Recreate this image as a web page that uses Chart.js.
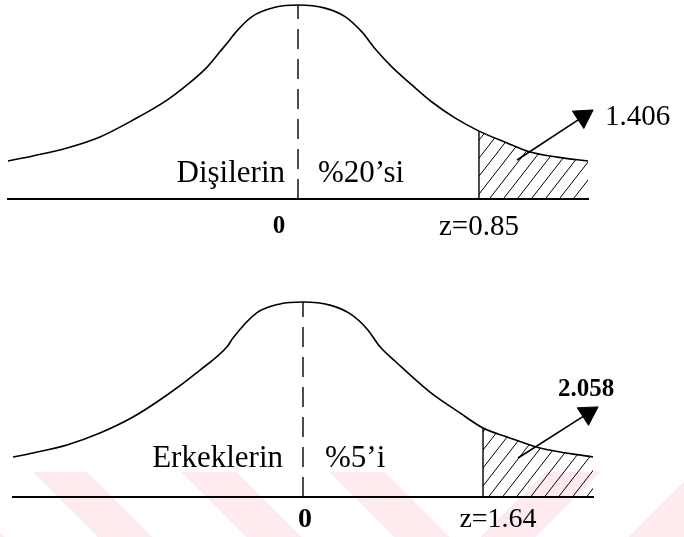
<!DOCTYPE html>
<html>
<head>
<meta charset="utf-8">
<script src="https://cdn.jsdelivr.net/npm/chart.js@4/dist/chart.umd.min.js"></script>
<style>
  body { margin: 0; background: #fff; }
  .panel { position: absolute; left: 0; width: 684px; }
  #wm { position: absolute; left: 0; top: 472px; width: 684px; height: 65px; overflow: hidden; }
  #wm .l { position: absolute; left: 0; top: 0; width: 470px; height: 65px;
    background: repeating-linear-gradient(45deg, rgba(240,110,135,0.14) 0 3px, transparent 3px 69px, rgba(240,110,135,0.14) 69px 105px); }
  #wm .r { position: absolute; left: 470px; top: 0; width: 214px; height: 65px;
    background: repeating-linear-gradient(-45deg, rgba(240,110,135,0.14) 0 39px, transparent 39px 105px); }
</style>
</head>
<body>
<div id="wm"><div class="l"></div><div class="r"></div></div>
<div class="panel" style="top:0;height:260px"><canvas id="female"></canvas></div>
<div class="panel" style="top:297px;height:240px"><canvas id="male"></canvas></div>
<script>
// bell curves, z on x, height relative to the peak on y
const femaleX = [-1.362, -1.245, -1.085, -0.930, -0.775, -0.615, -0.521, -0.427, -0.366, -0.319, -0.296, -0.216, -0.108, 0,
  0.127, 0.221, 0.301, 0.362, 0.442, 0.535, 0.629, 0.737, 0.85, 0.982, 1.090, 1.217, 1.362];
const femaleY = [0.196, 0.222, 0.263, 0.320, 0.407, 0.510, 0.588, 0.680, 0.760, 0.822, 0.855, 0.940, 0.988, 1,
  0.984, 0.940, 0.860, 0.775, 0.680, 0.588, 0.500, 0.418, 0.350, 0.289, 0.242, 0.216, 0.196];
const maleX = [-2.642, -2.460, -2.150, -1.850, -1.549, -1.239, -0.938, -0.692, -0.638, -0.419, -0.210, 0,
  0.246, 0.428, 0.583, 0.702, 0.857, 1.157, 1.430, 1.64, 1.859, 2.159, 2.642];
const maleY = [0.205, 0.226, 0.267, 0.328, 0.410, 0.523, 0.651, 0.770, 0.815, 0.945, 0.990, 1,
  0.984, 0.940, 0.862, 0.770, 0.687, 0.538, 0.431, 0.354, 0.308, 0.251, 0.205];

const femaleCut = 0.85;
const maleCut = 1.64;
const femaleTicks = [0, femaleCut];
const maleTicks = [0, maleCut];
const femaleTickLabels = ['0', 'z=0.85'];
const maleTickLabels = ['0', 'z=1.64'];
const femaleGroup = ['Dişilerin', '%20’si'];
const maleGroup = ['Erkeklerin', '%5’i'];
const femaleValue = '1.406';
const maleValue = '2.058';
// arrow from inside the tail out to the value
const femaleArrowX = [1.029, 1.339];
const femaleArrowY = [0.201, 0.425];
const maleArrowX = [1.959, 2.596];
const maleArrowY = [0.200, 0.429];

const serif = "'Liberation Serif', 'Times New Roman', serif";

function hatch() {
  const c = document.createElement('canvas');
  c.width = 14; c.height = 18;
  const g = c.getContext('2d');
  g.strokeStyle = '#000';
  g.lineWidth = 1;
  g.beginPath();
  for (const off of [-14, 0, 14]) {
    g.moveTo(off, 18);
    g.lineTo(off + 14, 0);
  }
  g.stroke();
  return g.createPattern(c, 'repeat');
}

function pts(xs, ys) {
  return xs.map((x, i) => ({ x: x, y: ys[i] }));
}

const panelText = {
  id: 'panelText',
  afterDatasetsDraw(chart, args, opts) {
    const ctx = chart.ctx;
    const sx = chart.scales.x, sy = chart.scales.y;
    ctx.save();
    ctx.fillStyle = '#000';
    for (const t of opts.items) {
      ctx.font = t.font;
      ctx.textAlign = t.align;
      ctx.textBaseline = t.baseline;
      ctx.fillText(t.text, sx.getPixelForValue(t.x) + t.dx, sy.getPixelForValue(t.y) + t.dy);
    }
    ctx.restore();
  }
};

function drawPanel(id, p) {
  const curve = pts(p.xs, p.ys);
  const tail = [{ x: p.cut, y: 0 }].concat(curve.filter(d => d.x >= p.cut));
  const cutH = p.ys[p.xs.indexOf(p.cut)];

  const items = [
    { text: p.group[0], x: 0, y: p.textY, dx: p.groupGap[0], dy: 0, align: 'right', baseline: 'alphabetic', font: '31px ' + serif },
    { text: p.group[1], x: 0, y: p.textY, dx: p.groupGap[1], dy: 0, align: 'left', baseline: 'alphabetic', font: '31px ' + serif },
    { text: p.value, x: p.valuePos[0], y: p.valuePos[1], dx: 0, dy: 0, align: 'left', baseline: 'middle', font: p.valueFont + serif }
  ];
  p.ticks.forEach((v, i) => {
    items.push({ text: p.tickLabels[i], x: v, y: 0, dx: p.tickDx[i], dy: p.tickDy, align: 'center', baseline: 'middle', font: p.tickFont[i] + serif });
  });

  new Chart(document.getElementById(id), {
    type: 'line',
    data: {
      datasets: [
        { data: tail, borderWidth: 0, pointRadius: 0, fill: 'origin', backgroundColor: hatch(), tension: 0, clip: false },
        { data: curve, borderColor: '#000', borderWidth: 1.6, pointRadius: 0, fill: false, cubicInterpolationMode: 'monotone', clip: false },
        { data: [{ x: p.cut, y: 0 }, { x: p.cut, y: cutH }], borderColor: '#000', borderWidth: 1.4, pointRadius: 0, fill: false, clip: false },
        { data: [{ x: 0, y: 0 }, { x: 0, y: 1 }], borderColor: '#000', borderWidth: 1.4, borderDash: [20, 10], pointRadius: 0, fill: false, clip: false },
        {
          data: pts(p.arrowX, p.arrowY), borderColor: '#000', borderWidth: 1.6, fill: false, clip: false,
          pointStyle: 'triangle', pointRadius: [0, 12], pointBackgroundColor: '#000', pointBorderColor: '#000', pointBorderWidth: 1,
          pointRotation: (c) => {
            const sx = c.chart.scales.x, sy = c.chart.scales.y;
            const dx = sx.getPixelForValue(p.arrowX[1]) - sx.getPixelForValue(p.arrowX[0]);
            const dy = sy.getPixelForValue(p.arrowY[1]) - sy.getPixelForValue(p.arrowY[0]);
            return Math.atan2(dx, -dy) * 180 / Math.PI;
          }
        }
      ]
    },
    options: {
      responsive: true,
      maintainAspectRatio: false,
      animation: false,
      events: [],
      layout: { autoPadding: false, padding: p.padding },
      scales: {
        x: {
          type: 'linear', min: p.xs[0], max: p.xs[p.xs.length - 1],
          grid: { display: false, drawTicks: false },
          ticks: { display: false },
          border: { display: true, color: '#000', width: 2 }
        },
        y: { type: 'linear', min: 0, max: 1, display: false }
      },
      plugins: {
        legend: { display: false },
        tooltip: { enabled: false },
        panelText: { items: items }
      }
    },
    plugins: [panelText]
  });
}

drawPanel('female', {
  xs: femaleX, ys: femaleY, cut: femaleCut,
  ticks: femaleTicks, tickLabels: femaleTickLabels,
  tickDx: [-19, 0], tickDy: 28, tickFont: ['bold 25px ', '29px '],
  group: femaleGroup, groupGap: [-13, 20], textY: 0.088,
  value: femaleValue, valuePos: [1.442, 0.423], valueFont: '29px ',
  arrowX: femaleArrowX, arrowY: femaleArrowY,
  padding: { left: 8, right: 96, top: 5, bottom: 61 }
});

drawPanel('male', {
  xs: maleX, ys: maleY, cut: maleCut,
  ticks: maleTicks, tickLabels: maleTickLabels,
  tickDx: [2, 15], tickDy: 23, tickFont: ['bold 28px ', '28px '],
  group: maleGroup, groupGap: [-20, 22], textY: 0.154,
  value: maleValue, valuePos: [2.323, 0.549], valueFont: 'bold 25px ',
  arrowX: maleArrowX, arrowY: maleArrowY,
  padding: { left: 13, right: 91, top: 5, bottom: 40 }
});
</script>
</body>
</html>
